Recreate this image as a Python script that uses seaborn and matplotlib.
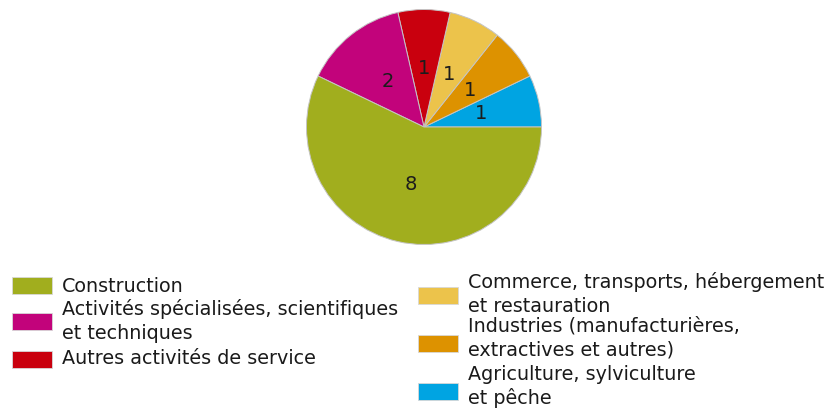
import matplotlib
matplotlib.use("Agg")
import matplotlib.pyplot as plt
from matplotlib.patches import Rectangle
import seaborn as sns

sns.set_theme(style="white")
plt.rcParams["font.family"] = ["DejaVu Sans"]

# Number of establishments by sector (legend order)
categories = [
    "Construction",
    "Activités spécialisées, scientifiques\net techniques",
    "Autres activités de service",
    "Commerce, transports, hébergement\net restauration",
    "Industries (manufacturières,\nextractives et autres)",
    "Agriculture, sylviculture\net pêche",
]
counts = [8, 2, 1, 1, 1, 1]
colors = ["#a1ae1e", "#c2037b", "#c9000e", "#ecc34b", "#dd9200", "#00a4e2"]

W, H = 837, 417
fig = plt.figure(figsize=(W / 100, H / 100), dpi=100)
fig.patch.set_facecolor("white")

# Pie axes: centre (424, 127) px, radius ~117.5 px
cx, cy, r = 424, 127, 117.5
ax = fig.add_axes([(cx - r) / W, (H - cy - r) / H, 2 * r / W, 2 * r / H])

total = sum(counts)
wedges, texts, autotexts = ax.pie(
    counts[::-1],
    colors=colors[::-1],
    startangle=0,
    counterclock=True,
    radius=1.0,
    autopct=lambda p: f"{round(p * total / 100):d}",
    pctdistance=0.5,
    wedgeprops=dict(edgecolor="#c4c4c4", linewidth=0.7),
    textprops=dict(fontsize=14, color="#1c1c1c"),
)
ax.set_xlim(-1, 1)
ax.set_ylim(-1, 1)
ax.set_aspect("equal")
ax.axis("off")

# Two-column legend laid out in pixel coordinates (top-left origin)
# (swatch x, swatch centre y, text x, first baseline y) per entry
layout = [
    (12, 285.5, 62, 292),
    (12, 321.5, 62, 315),
    (12, 359.5, 62, 364),
    (418, 295, 468, 288),
    (418, 343, 468, 331),
    (418, 391, 468, 380),
]
sw_w, sw_h, line_h = 40, 17, 24

def fx(px):
    return px / W

def fy(py):
    return 1 - py / H

for label, color, (sx, scy, tx, ty) in zip(categories, colors, layout):
    fig.patches.append(Rectangle(
        (fx(sx), fy(scy + sw_h / 2)), sw_w / W, sw_h / H,
        transform=fig.transFigure, facecolor=color,
        edgecolor="#d8d8d8", linewidth=0.6))
    for i, line in enumerate(label.split("\n")):
        fig.text(fx(tx), fy(ty + i * line_h), line, fontsize=13.8,
                 color="#1a1a1a", ha="left", va="baseline")

fig.savefig("out.png", dpi=100, facecolor="white")
